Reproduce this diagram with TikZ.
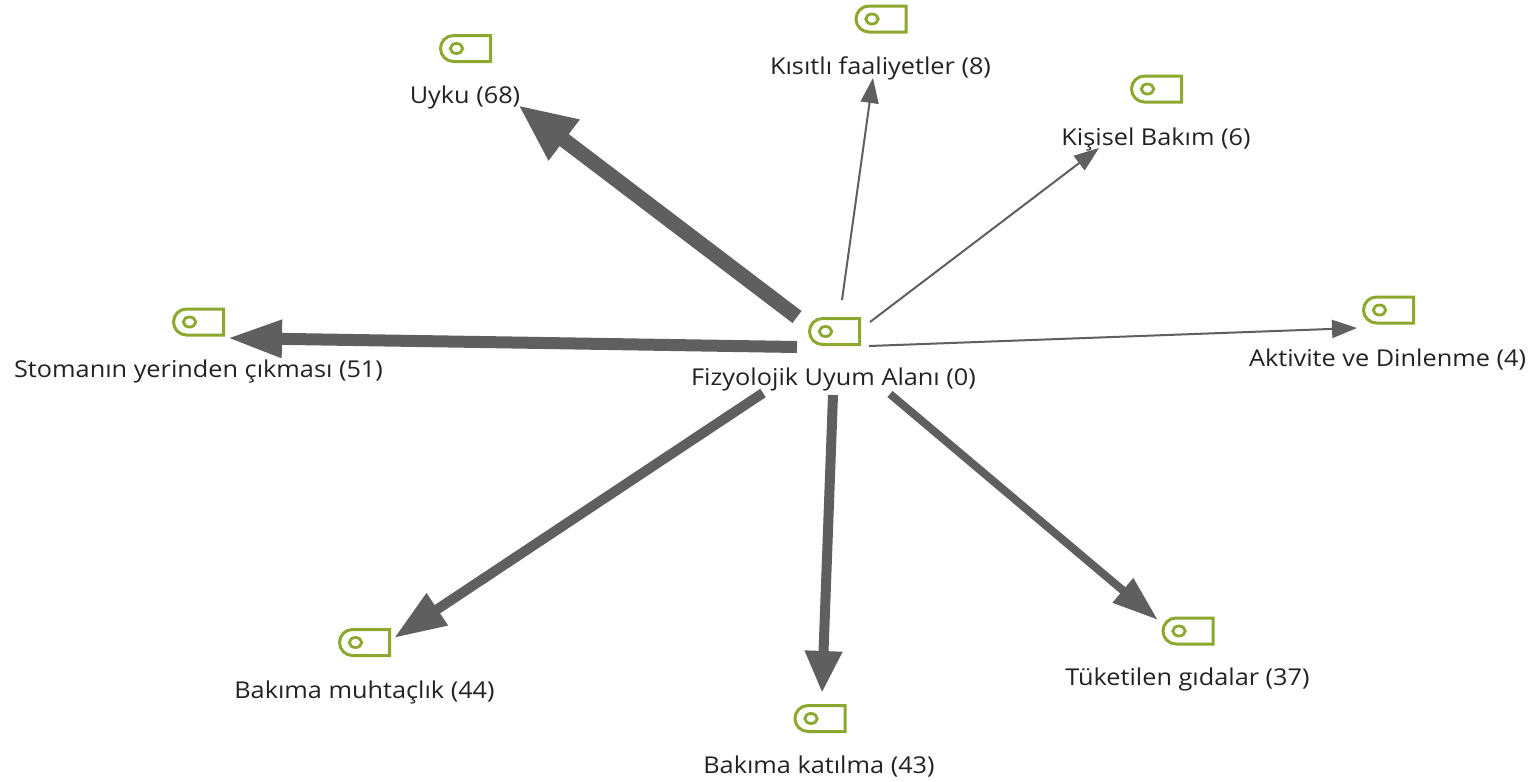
\documentclass[tikz,border=0pt]{standalone}
\usepackage{fontspec}
\setmainfont[FakeStretch=1.09]{Open Sans}
\usetikzlibrary{arrows.meta,shapes.misc}
\definecolor{flowgray}{HTML}{5F5F5F}
\definecolor{taggreen}{HTML}{8CA82E}
\definecolor{labelink}{HTML}{222222}
\tikzset{
  tagicon/.style={rounded rectangle, rounded rectangle east arc=none, draw=taggreen, line width=1.5pt,
    minimum width=25pt, minimum height=13pt, inner sep=0pt, outer sep=0pt, fill=white,
    path picture={\draw[taggreen,line width=1.4pt] ([xshift=8pt]path picture bounding box.west) ellipse (3.1pt and 2.5pt);}},
  tagtext/.style={font=\fontsize{11.6}{14}\selectfont, text=labelink, anchor=base, inner sep=0pt},
  flow/.style={draw=flowgray, line cap=butt},
  flowA/.style={flow, line width=7.5pt, -{Triangle[length=29pt,width=23.5pt]}},
  flowB/.style={flow, line width=6pt, -{Triangle[length=27.5pt,width=17.5pt]}},
  flowC/.style={flow, line width=5pt, -{Triangle[length=26pt,width=18pt]}},
  flowD/.style={flow, line width=5pt, -{Triangle[length=21pt,width=17.5pt]}},
  flowE/.style={flow, line width=4pt, -{Triangle[length=23pt,width=15pt]}},
  flowF/.style={flow, line width=1pt, -{Triangle[length=12.5pt,width=9pt]}},
}
\begin{document}
\begin{tikzpicture}[x=.5pt,y=-.5pt]
\useasboundingbox[fill=white] (0,0) rectangle (1538,782);
% icons
\node[tagicon] (hub)  at (834.5,331.5) {};
\node[tagicon] (uyku) at (465.5,48.5) {};
\node[tagicon] (kisitli) at (881,19) {};
\node[tagicon] (kisisel) at (1156.5,89) {};
\node[tagicon] (aktivite) at (1388.5,310) {};
\node[tagicon] (stoma) at (198.5,322) {};
\node[tagicon] (muhtac) at (364.5,642.5) {};
\node[tagicon] (katilma) at (820,718.5) {};
\node[tagicon] (tuketilen) at (1188,631) {};
% labels
\node[tagtext] (hubL) at (833.5,385) {Fizyolojik Uyum Alanı (0)};
\node[tagtext] (uykuL) at (465,103) {Uyku (68)};
\node[tagtext] (kisitliL) at (880.5,74) {Kısıtlı faaliyetler (8)};
\node[tagtext] (kisiselL) at (1156,145) {Kişisel Bakım (6)};
\node[tagtext] (aktiviteL) at (1387.5,366) {Aktivite ve Dinlenme (4)};
\node[tagtext] (stomaL) at (198.5,377) {Stomanın yerinden çıkması (51)};
\node[tagtext] (muhtacL) at (364.5,698) {Bakıma muhtaçlık (44)};
\node[tagtext] (katilmaL) at (819,773) {Bakıma katılma (43)};
\node[tagtext] (tuketilenL) at (1187.5,685) {Tüketilen gıdalar (37)};
% connectors
\draw[flowA] ([shift={(-37.5,-14.5)}]hub.center) -- ([shift={(52.5,56.5)}]uyku.center);
\draw[flowB] ([shift={(-37.5,15.5)}]hub.center) -- ([shift={(28.5,16)}]stoma.center);
\draw[flowC] ([shift={(-71.5,61.5)}]hub.center) -- ([shift={(29.5,-4.5)}]muhtac.center);
\draw[flowD] ([shift={(-1.5,63.5)}]hub.center) -- ([shift={(2,-25.5)}]katilma.center);
\draw[flowE] ([shift={(55.5,62.5)}]hub.center) -- ([shift={(-30,-11)}]tuketilen.center);
\draw[flowF] ([shift={(7.5,-31.5)}]hub.center) -- ([shift={(-8,59)}]kisitli.center);
\draw[flowF] ([shift={(35.5,-9.5)}]hub.center) -- ([shift={(-57.5,59)}]kisisel.center);
\draw[flowF] ([shift={(34.5,14.5)}]hub.center) -- ([shift={(-31.5,18)}]aktivite.center);
\end{tikzpicture}
\end{document}
